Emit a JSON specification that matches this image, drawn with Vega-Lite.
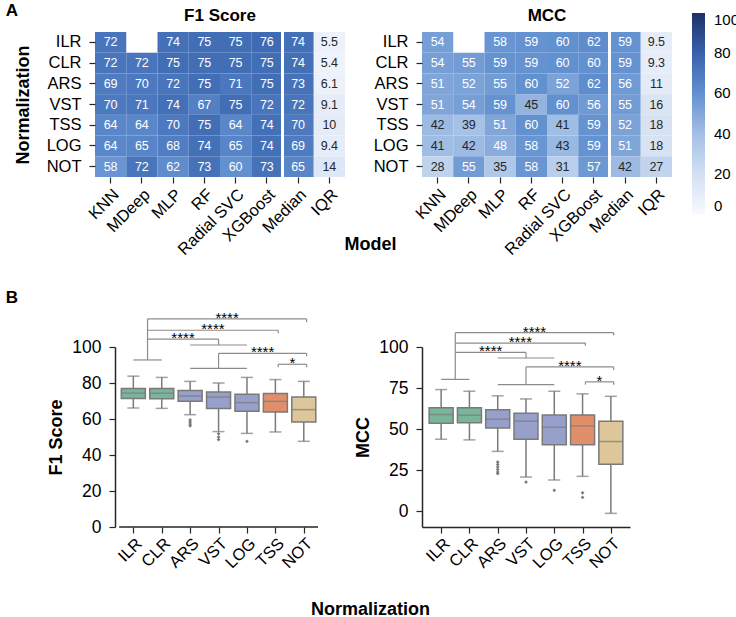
{
  "$schema": "https://vega.github.io/schema/vega-lite/v6.json",
  "background": "white",
  "padding": {"left": 5, "top": 1, "right": 0, "bottom": 0},
  "title": {"text": "A", "anchor": "start", "frame": "bounds", "fontSize": 17, "dx": 0, "dy": 17},
  "config": {
    "view": {"stroke": null},
    "font": "Liberation Sans",
    "axis": {"labelFontSize": 16.5, "titleFontSize": 18, "titleFontWeight": "bold", "labelColor": "#000000", "titleColor": "#000000", "tickColor": "#262626", "domainColor": "#262626", "tickSize": 6, "tickWidth": 1.2, "domainWidth": 1.5, "grid": false, "labelOverlap": false, "labelFlush": false},
    "title": {"fontSize": 17, "fontWeight": "bold", "color": "#000000"},
    "legend": {"labelFontSize": 15, "labelColor": "#000000", "labelOverlap": false}
  },
  "datasets": {
    "f1heat": [
      {"norm": "ILR", "model": "KNN", "value": 72}, {"norm": "ILR", "model": "MLP", "value": 74}, {"norm": "ILR", "model": "RF", "value": 75}, {"norm": "ILR", "model": "Radial SVC", "value": 75}, {"norm": "ILR", "model": "XGBoost", "value": 76}, {"norm": "ILR", "model": "Median", "value": 74}, {"norm": "ILR", "model": "IQR", "value": 5.5},
      {"norm": "CLR", "model": "KNN", "value": 72}, {"norm": "CLR", "model": "MDeep", "value": 72}, {"norm": "CLR", "model": "MLP", "value": 75}, {"norm": "CLR", "model": "RF", "value": 75}, {"norm": "CLR", "model": "Radial SVC", "value": 75}, {"norm": "CLR", "model": "XGBoost", "value": 75}, {"norm": "CLR", "model": "Median", "value": 74}, {"norm": "CLR", "model": "IQR", "value": 5.4},
      {"norm": "ARS", "model": "KNN", "value": 69}, {"norm": "ARS", "model": "MDeep", "value": 70}, {"norm": "ARS", "model": "MLP", "value": 72}, {"norm": "ARS", "model": "RF", "value": 75}, {"norm": "ARS", "model": "Radial SVC", "value": 71}, {"norm": "ARS", "model": "XGBoost", "value": 75}, {"norm": "ARS", "model": "Median", "value": 73}, {"norm": "ARS", "model": "IQR", "value": 6.1},
      {"norm": "VST", "model": "KNN", "value": 70}, {"norm": "VST", "model": "MDeep", "value": 71}, {"norm": "VST", "model": "MLP", "value": 74}, {"norm": "VST", "model": "RF", "value": 67}, {"norm": "VST", "model": "Radial SVC", "value": 75}, {"norm": "VST", "model": "XGBoost", "value": 72}, {"norm": "VST", "model": "Median", "value": 72}, {"norm": "VST", "model": "IQR", "value": 9.1},
      {"norm": "TSS", "model": "KNN", "value": 64}, {"norm": "TSS", "model": "MDeep", "value": 64}, {"norm": "TSS", "model": "MLP", "value": 70}, {"norm": "TSS", "model": "RF", "value": 75}, {"norm": "TSS", "model": "Radial SVC", "value": 64}, {"norm": "TSS", "model": "XGBoost", "value": 74}, {"norm": "TSS", "model": "Median", "value": 70}, {"norm": "TSS", "model": "IQR", "value": 10},
      {"norm": "LOG", "model": "KNN", "value": 64}, {"norm": "LOG", "model": "MDeep", "value": 65}, {"norm": "LOG", "model": "MLP", "value": 68}, {"norm": "LOG", "model": "RF", "value": 74}, {"norm": "LOG", "model": "Radial SVC", "value": 65}, {"norm": "LOG", "model": "XGBoost", "value": 74}, {"norm": "LOG", "model": "Median", "value": 69}, {"norm": "LOG", "model": "IQR", "value": 9.4},
      {"norm": "NOT", "model": "KNN", "value": 58}, {"norm": "NOT", "model": "MDeep", "value": 72}, {"norm": "NOT", "model": "MLP", "value": 62}, {"norm": "NOT", "model": "RF", "value": 73}, {"norm": "NOT", "model": "Radial SVC", "value": 60}, {"norm": "NOT", "model": "XGBoost", "value": 73}, {"norm": "NOT", "model": "Median", "value": 65}, {"norm": "NOT", "model": "IQR", "value": 14}
    ],
    "mccheat": [
      {"norm": "ILR", "model": "KNN", "value": 54}, {"norm": "ILR", "model": "MLP", "value": 58}, {"norm": "ILR", "model": "RF", "value": 59}, {"norm": "ILR", "model": "Radial SVC", "value": 60}, {"norm": "ILR", "model": "XGBoost", "value": 62}, {"norm": "ILR", "model": "Median", "value": 59}, {"norm": "ILR", "model": "IQR", "value": 9.5},
      {"norm": "CLR", "model": "KNN", "value": 54}, {"norm": "CLR", "model": "MDeep", "value": 55}, {"norm": "CLR", "model": "MLP", "value": 59}, {"norm": "CLR", "model": "RF", "value": 59}, {"norm": "CLR", "model": "Radial SVC", "value": 60}, {"norm": "CLR", "model": "XGBoost", "value": 60}, {"norm": "CLR", "model": "Median", "value": 59}, {"norm": "CLR", "model": "IQR", "value": 9.3},
      {"norm": "ARS", "model": "KNN", "value": 51}, {"norm": "ARS", "model": "MDeep", "value": 52}, {"norm": "ARS", "model": "MLP", "value": 55}, {"norm": "ARS", "model": "RF", "value": 60}, {"norm": "ARS", "model": "Radial SVC", "value": 52}, {"norm": "ARS", "model": "XGBoost", "value": 62}, {"norm": "ARS", "model": "Median", "value": 56}, {"norm": "ARS", "model": "IQR", "value": 11},
      {"norm": "VST", "model": "KNN", "value": 51}, {"norm": "VST", "model": "MDeep", "value": 54}, {"norm": "VST", "model": "MLP", "value": 59}, {"norm": "VST", "model": "RF", "value": 45}, {"norm": "VST", "model": "Radial SVC", "value": 60}, {"norm": "VST", "model": "XGBoost", "value": 56}, {"norm": "VST", "model": "Median", "value": 55}, {"norm": "VST", "model": "IQR", "value": 16},
      {"norm": "TSS", "model": "KNN", "value": 42}, {"norm": "TSS", "model": "MDeep", "value": 39}, {"norm": "TSS", "model": "MLP", "value": 51}, {"norm": "TSS", "model": "RF", "value": 60}, {"norm": "TSS", "model": "Radial SVC", "value": 41}, {"norm": "TSS", "model": "XGBoost", "value": 59}, {"norm": "TSS", "model": "Median", "value": 52}, {"norm": "TSS", "model": "IQR", "value": 18},
      {"norm": "LOG", "model": "KNN", "value": 41}, {"norm": "LOG", "model": "MDeep", "value": 42}, {"norm": "LOG", "model": "MLP", "value": 48}, {"norm": "LOG", "model": "RF", "value": 58}, {"norm": "LOG", "model": "Radial SVC", "value": 43}, {"norm": "LOG", "model": "XGBoost", "value": 59}, {"norm": "LOG", "model": "Median", "value": 51}, {"norm": "LOG", "model": "IQR", "value": 18},
      {"norm": "NOT", "model": "KNN", "value": 28}, {"norm": "NOT", "model": "MDeep", "value": 55}, {"norm": "NOT", "model": "MLP", "value": 35}, {"norm": "NOT", "model": "RF", "value": 58}, {"norm": "NOT", "model": "Radial SVC", "value": 31}, {"norm": "NOT", "model": "XGBoost", "value": 57}, {"norm": "NOT", "model": "Median", "value": 42}, {"norm": "NOT", "model": "IQR", "value": 27}
    ],
    "f1box": [
      {"norm": "ILR", "idx": 0, "lower": 66.1, "q1": 71.4, "median": 74.4, "q3": 77.0, "upper": 83.8},
      {"norm": "CLR", "idx": 1, "lower": 65.9, "q1": 71.3, "median": 74.3, "q3": 77.0, "upper": 83.1},
      {"norm": "ARS", "idx": 2, "lower": 62.4, "q1": 69.8, "median": 72.8, "q3": 75.9, "upper": 80.9},
      {"norm": "VST", "idx": 3, "lower": 53.0, "q1": 65.9, "median": 72.2, "q3": 75.0, "upper": 80.0},
      {"norm": "LOG", "idx": 4, "lower": 52.0, "q1": 64.3, "median": 69.1, "q3": 73.7, "upper": 83.1},
      {"norm": "TSS", "idx": 5, "lower": 52.8, "q1": 63.9, "median": 69.8, "q3": 74.1, "upper": 81.9},
      {"norm": "NOT", "idx": 6, "lower": 47.6, "q1": 58.3, "median": 65.2, "q3": 72.2, "upper": 80.9}
    ],
    "f1out": [
      {"norm": "ARS", "idx": 2, "value": 59.5}, {"norm": "ARS", "idx": 2, "value": 58.3}, {"norm": "ARS", "idx": 2, "value": 57.2}, {"norm": "ARS", "idx": 2, "value": 56.2},
      {"norm": "VST", "idx": 3, "value": 51.8}, {"norm": "VST", "idx": 3, "value": 50.0}, {"norm": "VST", "idx": 3, "value": 48.6},
      {"norm": "LOG", "idx": 4, "value": 47.6}
    ],
    "f1br": [
      {"x": 0.5, "x2": 6.1, "y": 115.6, "y2": 115.6}, {"x": 6.1, "x2": 6.1, "y": 115.6, "y2": 113.7},
      {"x": 0.5, "x2": 5.1, "y": 109.3, "y2": 109.3}, {"x": 5.1, "x2": 5.1, "y": 109.3, "y2": 107.6},
      {"x": 0.5, "x2": 3, "y": 104.4, "y2": 104.4}, {"x": 3, "x2": 3, "y": 104.4, "y2": 101.1},
      {"x": 0.5, "x2": 0.5, "y": 115.6, "y2": 92.8}, {"x": 0, "x2": 1, "y": 92.8, "y2": 92.8},
      {"x": 2, "x2": 4, "y": 101.1, "y2": 101.1},
      {"x": 3, "x2": 6.1, "y": 96.5, "y2": 96.5}, {"x": 6.1, "x2": 6.1, "y": 96.5, "y2": 94.8}, {"x": 3, "x2": 3, "y": 96.5, "y2": 88.1},
      {"x": 2, "x2": 4, "y": 88.1, "y2": 88.1},
      {"x": 5.1, "x2": 6.1, "y": 90.4, "y2": 90.4}, {"x": 5.1, "x2": 5.1, "y": 90.4, "y2": 88.7}, {"x": 6.1, "x2": 6.1, "y": 90.4, "y2": 88.7}
    ],
    "f1star": [
      {"x": 3.3, "y": 115.6, "label": "****"}, {"x": 2.8, "y": 109.3, "label": "****"}, {"x": 1.75, "y": 104.4, "label": "****"}, {"x": 4.55, "y": 96.5, "label": "****"}, {"x": 5.6, "y": 90.4, "label": "*"}
    ],
    "mccbox": [
      {"norm": "ILR", "idx": 0, "lower": 43.9, "q1": 53.6, "median": 58.9, "q3": 63.0, "upper": 74.1},
      {"norm": "CLR", "idx": 1, "lower": 43.5, "q1": 53.9, "median": 58.5, "q3": 63.0, "upper": 73.1},
      {"norm": "ARS", "idx": 2, "lower": 36.5, "q1": 50.8, "median": 56.1, "q3": 61.8, "upper": 70.3},
      {"norm": "VST", "idx": 3, "lower": 20.9, "q1": 43.9, "median": 54.9, "q3": 59.7, "upper": 68.4},
      {"norm": "LOG", "idx": 4, "lower": 19.1, "q1": 40.5, "median": 51.2, "q3": 58.7, "upper": 73.1},
      {"norm": "TSS", "idx": 5, "lower": 21.3, "q1": 40.5, "median": 52.0, "q3": 58.7, "upper": 71.5},
      {"norm": "NOT", "idx": 6, "lower": -1.2, "q1": 28.6, "median": 42.5, "q3": 54.9, "upper": 70.0}
    ],
    "mccout": [
      {"norm": "ARS", "idx": 2, "value": 30.0}, {"norm": "ARS", "idx": 2, "value": 28.5}, {"norm": "ARS", "idx": 2, "value": 27.0}, {"norm": "ARS", "idx": 2, "value": 25.5}, {"norm": "ARS", "idx": 2, "value": 24.0}, {"norm": "ARS", "idx": 2, "value": 23.0},
      {"norm": "VST", "idx": 3, "value": 17.8},
      {"norm": "LOG", "idx": 4, "value": 12.8},
      {"norm": "TSS", "idx": 5, "value": 11.3}, {"norm": "TSS", "idx": 5, "value": 8.5}
    ],
    "mccbr": [
      {"x": 0.5, "x2": 6.1, "y": 108.7, "y2": 108.7}, {"x": 6.1, "x2": 6.1, "y": 108.7, "y2": 107.1},
      {"x": 0.5, "x2": 5.1, "y": 102.4, "y2": 102.4}, {"x": 5.1, "x2": 5.1, "y": 102.4, "y2": 100.8},
      {"x": 0.5, "x2": 3, "y": 96.7, "y2": 96.7}, {"x": 3, "x2": 3, "y": 96.7, "y2": 93.3},
      {"x": 0.5, "x2": 0.5, "y": 108.7, "y2": 80.3}, {"x": 0, "x2": 1, "y": 80.3, "y2": 80.3},
      {"x": 2, "x2": 4, "y": 93.3, "y2": 93.3},
      {"x": 3, "x2": 6.1, "y": 87.9, "y2": 87.9}, {"x": 6.1, "x2": 6.1, "y": 87.9, "y2": 86.0}, {"x": 3, "x2": 3, "y": 87.9, "y2": 77.1},
      {"x": 2, "x2": 4, "y": 77.1, "y2": 77.1},
      {"x": 5.1, "x2": 6.1, "y": 78.8, "y2": 78.8}, {"x": 5.1, "x2": 5.1, "y": 78.8, "y2": 77.1}, {"x": 6.1, "x2": 6.1, "y": 78.8, "y2": 77.1}
    ],
    "mccstar": [
      {"x": 3.3, "y": 108.7, "label": "****"}, {"x": 2.8, "y": 102.4, "label": "****"}, {"x": 1.75, "y": 96.7, "label": "****"}, {"x": 4.55, "y": 87.9, "label": "****"}, {"x": 5.6, "y": 78.8, "label": "*"}
    ]
  },
  "columns": 2,
  "bounds": "flush",
  "align": "each",
  "spacing": {"row": 170, "column": 77},
  "resolve": {"scale": {"color": "independent"}, "legend": {"color": "independent"}},
  "concat": [
    {
      "width": 250, "height": 145,
      "title": {"text": "F1 Score", "offset": 6},
      "data": {"name": "f1heat"},
      "layer": [
        {"mark": {"type": "rect"},
         "encoding": {
           "x": {"field": "model", "type": "nominal", "sort": ["KNN", "MDeep", "MLP", "RF", "Radial SVC", "XGBoost", "Median", "IQR"], "scale": {"paddingInner": 0, "paddingOuter": 0}, "axis": {"title": "Model", "labelAngle": -45, "domain": false, "labelPadding": 3, "titleX": 275, "titleY": 67, "titleBaseline": "middle"}},
           "y": {"field": "norm", "type": "nominal", "sort": ["ILR", "CLR", "ARS", "VST", "TSS", "LOG", "NOT"], "scale": {"paddingInner": 0, "paddingOuter": 0}, "axis": {"title": "Normalization", "domain": false, "labelPadding": 8, "titlePadding": 14}},
           "color": {"field": "value", "type": "quantitative", "scale": {"domain": [0, 20, 40, 60, 80, 100], "range": ["#f7f9fd", "#d3e0f2", "#a3bfe5", "#6291d0", "#3862ad", "#1d3168"]}, "legend": null}
         }},
        {"mark": {"type": "text", "fontSize": 12.5},
         "encoding": {
           "x": {"field": "model", "type": "nominal", "sort": ["KNN", "MDeep", "MLP", "RF", "Radial SVC", "XGBoost", "Median", "IQR"]},
           "y": {"field": "norm", "type": "nominal", "sort": ["ILR", "CLR", "ARS", "VST", "TSS", "LOG", "NOT"]},
           "text": {"field": "value", "type": "quantitative"},
           "color": {"condition": {"test": "datum.value >= 48", "value": "#ffffff"}, "value": "#262626"}
         }},
        {"transform": [{"filter": "datum.model === 'Median' && datum.norm === 'ILR'"}],
         "mark": {"type": "rule", "color": "#ffffff", "strokeWidth": 3},
         "encoding": {"x": {"field": "model", "type": "nominal", "sort": ["KNN", "MDeep", "MLP", "RF", "Radial SVC", "XGBoost", "Median", "IQR"], "bandPosition": 0}}}
      ]
    },
    {
      "width": 250, "height": 145,
      "title": {"text": "MCC", "offset": 6, "dy": 18},
      "data": {"name": "mccheat"},
      "layer": [
        {"mark": {"type": "rect"},
         "encoding": {
           "x": {"field": "model", "type": "nominal", "sort": ["KNN", "MDeep", "MLP", "RF", "Radial SVC", "XGBoost", "Median", "IQR"], "scale": {"paddingInner": 0, "paddingOuter": 0}, "axis": {"title": null, "labelAngle": -45, "domain": false, "labelPadding": 3}},
           "y": {"field": "norm", "type": "nominal", "sort": ["ILR", "CLR", "ARS", "VST", "TSS", "LOG", "NOT"], "scale": {"paddingInner": 0, "paddingOuter": 0}, "axis": {"title": null, "domain": false, "labelPadding": 8}},
           "color": {"field": "value", "type": "quantitative", "scale": {"domain": [0, 20, 40, 60, 80, 100], "range": ["#f7f9fd", "#d3e0f2", "#a3bfe5", "#6291d0", "#3862ad", "#1d3168"]},
             "legend": {"orient": "none", "legendX": 270, "legendY": -19, "direction": "vertical", "title": null, "gradientLength": 201, "gradientThickness": 13, "gradientStrokeWidth": 0, "values": [0, 20, 40, 60, 80, 100], "labelOffset": 9}}
         }},
        {"mark": {"type": "text", "fontSize": 12.5},
         "encoding": {
           "x": {"field": "model", "type": "nominal", "sort": ["KNN", "MDeep", "MLP", "RF", "Radial SVC", "XGBoost", "Median", "IQR"]},
           "y": {"field": "norm", "type": "nominal", "sort": ["ILR", "CLR", "ARS", "VST", "TSS", "LOG", "NOT"]},
           "text": {"field": "value", "type": "quantitative"},
           "color": {"condition": {"test": "datum.value >= 48", "value": "#ffffff"}, "value": "#262626"}
         }},
        {"transform": [{"filter": "datum.model === 'Median' && datum.norm === 'ILR'"}],
         "mark": {"type": "rule", "color": "#ffffff", "strokeWidth": 3},
         "encoding": {"x": {"field": "model", "type": "nominal", "sort": ["KNN", "MDeep", "MLP", "RF", "Radial SVC", "XGBoost", "Median", "IQR"], "bandPosition": 0}}}
      ]
    },
    {
      "width": 228, "height": 180,
      "title": {"text": "B", "anchor": "start", "frame": "bounds", "fontSize": 17, "dx": -42},
      "layer": [
        {"data": {"name": "f1box"}, "mark": {"type": "rule", "color": "#7a7a7a", "strokeWidth": 1.5},
         "encoding": {
           "x": {"field": "idx", "type": "quantitative", "scale": {"domain": [-1.173, 6.5], "nice": false, "zero": false}, "axis": {"values": [0, 1, 2, 3, 4, 5, 6], "tickCount": 20, "labelExpr": "['ILR','CLR','ARS','VST','LOG','TSS','NOT'][datum.value]", "labelAngle": -45, "labelOverlap": false, "domain": false, "title": "Normalization", "titleX": 275, "titleY": 82, "titleBaseline": "middle"}},
           "y": {"field": "lower", "type": "quantitative", "scale": {"domain": [0, 100], "nice": false}, "axis": {"values": [0, 20, 40, 60, 80, 100], "tickCount": 20, "labelOverlap": false, "labelFontSize": 17.5, "title": "F1 Score", "offset": -20, "labelPadding": 8, "titlePadding": 6}},
           "y2": {"field": "upper"}
         }},
        {"data": {"values": [{}]}, "mark": {"type": "rule", "color": "#262626", "strokeWidth": 1.5},
         "encoding": {"x": {"datum": -0.5, "type": "quantitative"}, "x2": {"datum": 6.5}, "y": {"datum": 0, "type": "quantitative"}}},
        {"data": {"name": "f1box"}, "mark": {"type": "tick", "orient": "horizontal", "size": 12, "thickness": 1.5, "color": "#7a7a7a"},
         "encoding": {"x": {"field": "idx", "type": "quantitative"}, "y": {"field": "lower", "type": "quantitative", "title": "F1 Score"}}},
        {"data": {"name": "f1box"}, "mark": {"type": "tick", "orient": "horizontal", "size": 12, "thickness": 1.5, "color": "#7a7a7a"},
         "encoding": {"x": {"field": "idx", "type": "quantitative"}, "y": {"field": "upper", "type": "quantitative", "title": "F1 Score"}}},
        {"data": {"name": "f1box"}, "mark": {"type": "bar", "width": 24, "stroke": "#7a7a7a", "strokeWidth": 1.5, "opacity": 1},
         "encoding": {"x": {"field": "idx", "type": "quantitative"}, "y": {"field": "q1", "type": "quantitative", "title": "F1 Score"}, "y2": {"field": "q3"},
           "color": {"field": "norm", "type": "nominal", "scale": {"domain": ["ILR", "CLR", "ARS", "VST", "LOG", "TSS", "NOT"], "range": ["#79b59a", "#79b59a", "#96a0cb", "#96a0cb", "#96a0cb", "#e08f6a", "#dcc69a"]}, "legend": null}}},
        {"data": {"name": "f1box"}, "mark": {"type": "tick", "orient": "horizontal", "size": 24, "thickness": 1.5, "color": "#7a7a7a"},
         "encoding": {"x": {"field": "idx", "type": "quantitative"}, "y": {"field": "median", "type": "quantitative", "title": "F1 Score"}}},
        {"data": {"name": "f1out"}, "mark": {"type": "point", "shape": "diamond", "filled": true, "size": 14, "color": "#7a7a7a", "opacity": 1},
         "encoding": {"x": {"field": "idx", "type": "quantitative"}, "y": {"field": "value", "type": "quantitative", "title": "F1 Score"}}},
        {"data": {"name": "f1br"}, "mark": {"type": "rule", "color": "#8c8c8c", "strokeWidth": 1.2},
         "encoding": {"x": {"field": "x", "type": "quantitative"}, "x2": {"field": "x2"}, "y": {"field": "y", "type": "quantitative", "title": "F1 Score"}, "y2": {"field": "y2"}}},
        {"data": {"name": "f1star"}, "mark": {"type": "text", "fontSize": 15, "dy": 4, "baseline": "alphabetic", "color": "#000000"},
         "encoding": {"x": {"field": "x", "type": "quantitative"}, "y": {"field": "y", "type": "quantitative", "title": "F1 Score"}, "text": {"field": "label"}}}
      ]
    },
    {
      "width": 208, "height": 180,
      "layer": [
        {"data": {"name": "mccbox"}, "mark": {"type": "rule", "color": "#7a7a7a", "strokeWidth": 1.5},
         "encoding": {
           "x": {"field": "idx", "type": "quantitative", "scale": {"domain": [-0.5, 6.5], "nice": false, "zero": false}, "axis": {"values": [0, 1, 2, 3, 4, 5, 6], "tickCount": 20, "labelExpr": "['ILR','CLR','ARS','VST','LOG','TSS','NOT'][datum.value]", "labelAngle": -45, "labelOverlap": false, "title": null}},
           "y": {"field": "lower", "type": "quantitative", "scale": {"domain": [-9.5, 100], "nice": false, "zero": false}, "axis": {"values": [0, 25, 50, 75, 100], "tickCount": 20, "labelFontSize": 17.5, "title": "MCC", "labelPadding": 8, "titlePadding": 6}},
           "y2": {"field": "upper"}
         }},
        {"data": {"name": "mccbox"}, "mark": {"type": "tick", "orient": "horizontal", "size": 12, "thickness": 1.5, "color": "#7a7a7a"},
         "encoding": {"x": {"field": "idx", "type": "quantitative"}, "y": {"field": "lower", "type": "quantitative", "title": "MCC"}}},
        {"data": {"name": "mccbox"}, "mark": {"type": "tick", "orient": "horizontal", "size": 12, "thickness": 1.5, "color": "#7a7a7a"},
         "encoding": {"x": {"field": "idx", "type": "quantitative"}, "y": {"field": "upper", "type": "quantitative", "title": "MCC"}}},
        {"data": {"name": "mccbox"}, "mark": {"type": "bar", "width": 24, "stroke": "#7a7a7a", "strokeWidth": 1.5, "opacity": 1},
         "encoding": {"x": {"field": "idx", "type": "quantitative"}, "y": {"field": "q1", "type": "quantitative", "title": "MCC"}, "y2": {"field": "q3"},
           "color": {"field": "norm", "type": "nominal", "scale": {"domain": ["ILR", "CLR", "ARS", "VST", "LOG", "TSS", "NOT"], "range": ["#79b59a", "#79b59a", "#96a0cb", "#96a0cb", "#96a0cb", "#e08f6a", "#dcc69a"]}, "legend": null}}},
        {"data": {"name": "mccbox"}, "mark": {"type": "tick", "orient": "horizontal", "size": 24, "thickness": 1.5, "color": "#7a7a7a"},
         "encoding": {"x": {"field": "idx", "type": "quantitative"}, "y": {"field": "median", "type": "quantitative", "title": "MCC"}}},
        {"data": {"name": "mccout"}, "mark": {"type": "point", "shape": "diamond", "filled": true, "size": 14, "color": "#7a7a7a", "opacity": 1},
         "encoding": {"x": {"field": "idx", "type": "quantitative"}, "y": {"field": "value", "type": "quantitative", "title": "MCC"}}},
        {"data": {"name": "mccbr"}, "mark": {"type": "rule", "color": "#8c8c8c", "strokeWidth": 1.2},
         "encoding": {"x": {"field": "x", "type": "quantitative"}, "x2": {"field": "x2"}, "y": {"field": "y", "type": "quantitative", "title": "MCC"}, "y2": {"field": "y2"}}},
        {"data": {"name": "mccstar"}, "mark": {"type": "text", "fontSize": 15, "dy": 4, "baseline": "alphabetic", "color": "#000000"},
         "encoding": {"x": {"field": "x", "type": "quantitative"}, "y": {"field": "y", "type": "quantitative", "title": "MCC"}, "text": {"field": "label"}}}
      ]
    }
  ]
}
